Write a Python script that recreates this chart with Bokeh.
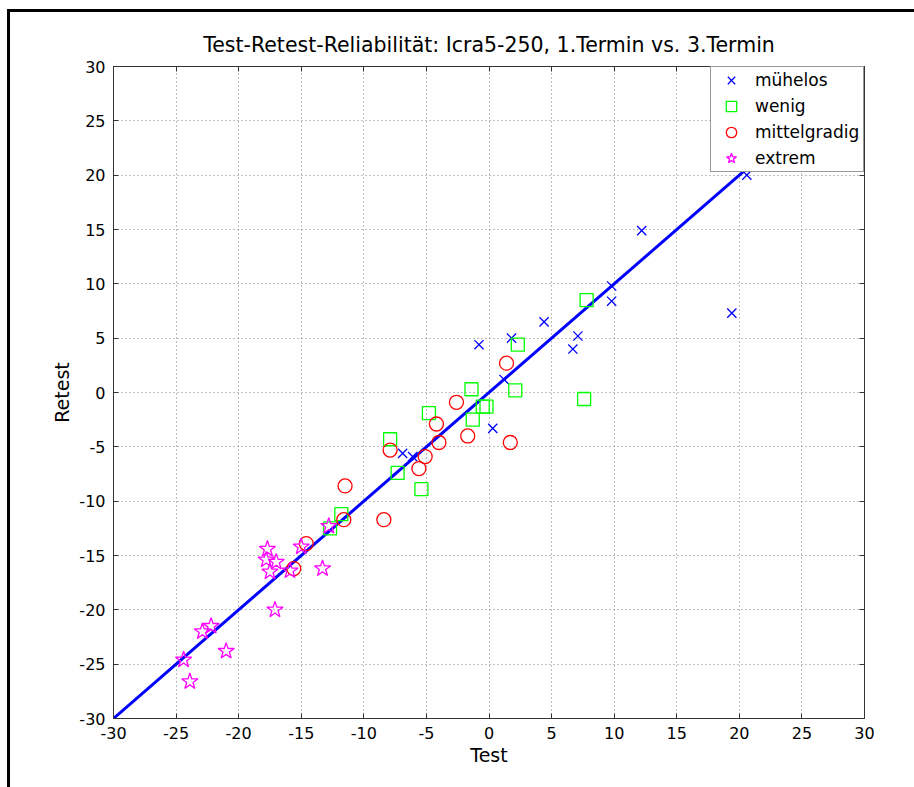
import numpy as np
from bokeh.plotting import figure
from bokeh.models import (Range1d, LinearAxis, Legend, LegendItem, SingleIntervalTicker,
                          Title, InlineStyleSheet)
from bokeh.embed import file_html
from bokeh.resources import INLINE

# ---- data ----
muehelos_x = [20.6, 12.2, 9.8, 9.8, 19.4, 4.4, 7.1, 6.7, -0.8, 1.8, 1.2, 0.3, -6.9, -6.1]
muehelos_y = [20.0, 14.9, 9.8, 8.4, 7.3, 6.5, 5.2, 4.0, 4.4, 5.0, 1.2, -3.3, -5.6, -5.9]

wenig_x = [7.8, 2.3, 2.1, 7.6, -1.4, -0.5, -0.2, -1.3, -4.8, -7.9, -7.3, -5.4, -11.8, -12.7]
wenig_y = [8.5, 4.4, 0.2, -0.6, 0.3, -1.3, -1.3, -2.5, -1.9, -4.3, -7.4, -8.9, -11.2, -12.5]

mittel_x = [1.4, -2.6, -4.2, -1.7, -4.0, 1.7, -7.9, -5.1, -5.6, -11.5, -8.4, -11.6, -14.6, -15.6]
mittel_y = [2.7, -0.9, -2.9, -4.0, -4.6, -4.6, -5.3, -5.9, -7.0, -8.6, -11.7, -11.7, -13.9, -16.2]

extrem_x = [-12.8, -15.0, -17.7, -17.8, -17.0, -17.5, -15.9, -13.3, -17.1, -22.2, -22.9, -21.0, -24.4, -23.9]
extrem_y = [-12.3, -14.2, -14.4, -15.4, -15.6, -16.5, -16.4, -16.2, -20.0, -21.5, -22.0, -23.8, -24.6, -26.6]

labels = ["mühelos", "wenig", "mittelgradig", "extrem"]
axis_min, axis_max, tick_step = -30, 30, 5
tick_values = list(range(axis_min, axis_max + 1, tick_step))
tick_labels = {v: str(v) for v in tick_values}   # plain hyphen minus, as in the reference

all_x = muehelos_x + wenig_x + mittel_x + extrem_x
line_x = [axis_min, max(all_x)]
line_y = list(line_x)  # identity line Retest = Test

FONT = "DejaVu Sans"

p = figure(width=914, height=787, output_backend="svg", toolbar_location=None,
           x_range=Range1d(axis_min, axis_max), y_range=Range1d(axis_min, axis_max),
           min_border_left=113, min_border_right=50, min_border_top=66, min_border_bottom=69,
           background_fill_color="white", border_fill_color="white")

p.title = Title(text="Test-Retest-Reliabilität: Icra5-250, 1.Termin vs. 3.Termin",
                align="center", text_font=FONT, text_font_size="20.5px",
                text_font_style="normal", text_color="black", standoff=12)

p.outline_line_color = "#333333"
p.outline_line_width = 1

ticker = SingleIntervalTicker(interval=tick_step)
for ax in (p.xaxis[0], p.yaxis[0]):
    ax.ticker = ticker
    ax.major_label_overrides = tick_labels
    ax.major_label_text_font = FONT
    ax.major_label_text_font_size = "16px"
    ax.major_label_text_color = "black"
    ax.axis_label_text_font = FONT
    ax.axis_label_text_font_size = "19px"
    ax.axis_label_text_font_style = "normal"
    ax.axis_label_text_color = "black"
    ax.axis_line_color = "#333333"
    ax.major_tick_line_color = "#333333"
    ax.major_tick_in = 5
    ax.major_tick_out = 0
    ax.minor_tick_line_color = None
    ax.major_label_standoff = 4
p.xaxis.axis_label = "Test"
p.yaxis.axis_label = "Retest"
p.xaxis.axis_label_standoff = 2
p.yaxis.axis_label_standoff = 3

for loc in ("right", "above"):
    ax = LinearAxis(ticker=ticker, major_label_text_font_size="1px", major_label_text_color=None,
                    major_tick_in=5, major_tick_out=0, minor_tick_line_color=None,
                    axis_line_color="#333333", major_tick_line_color="#333333",
                    major_label_standoff=0)
    p.add_layout(ax, loc)

p.xgrid.ticker = ticker
p.ygrid.ticker = ticker
for g in (p.xgrid[0], p.ygrid[0]):
    g.grid_line_color = "#7f7f7f"
    g.grid_line_dash = "1 3"
    g.grid_line_width = 1

fit = p.line(line_x, line_y, line_color="#0000ff", line_width=3)

r1 = p.scatter(muehelos_x, muehelos_y, marker="x", size=13, line_color="#0000ff", line_width=1.3)
r2 = p.scatter(wenig_x, wenig_y, marker="square", size=13, line_color="#00ff00", fill_color=None, line_width=1.3)
r3 = p.scatter(mittel_x, mittel_y, marker="circle", size=14, line_color="#ff0000", fill_color=None, line_width=1.3)
r4 = p.scatter(extrem_x, extrem_y, marker="star", size=17, line_color="#ff00ff", fill_color=None, line_width=1.3)

legend = Legend(items=[LegendItem(label=l, renderers=[r]) for l, r in zip(labels, [r1, r2, r3, r4])],
                location="top_right", margin=0, padding=0, spacing=0,
                glyph_width=40, glyph_height=26, label_height=26, label_width=108,
                label_standoff=4, label_text_font=FONT, label_text_font_size="17px",
                label_text_color="black",
                border_line_color="#333333", border_line_width=1,
                background_fill_color="white", background_fill_alpha=1)
p.add_layout(legend, "center")

# outer window frame (left and top edges), drawn as page styling
p.stylesheets = [InlineStyleSheet(css=(
    ":host::after { content: ''; position: absolute; left: 7px; top: 9px; right: 0; bottom: 0;"
    " border-left: 3px solid black; border-top: 3px solid black; pointer-events: none; }"))]

open("out.html", "w").write(file_html(p, INLINE))
